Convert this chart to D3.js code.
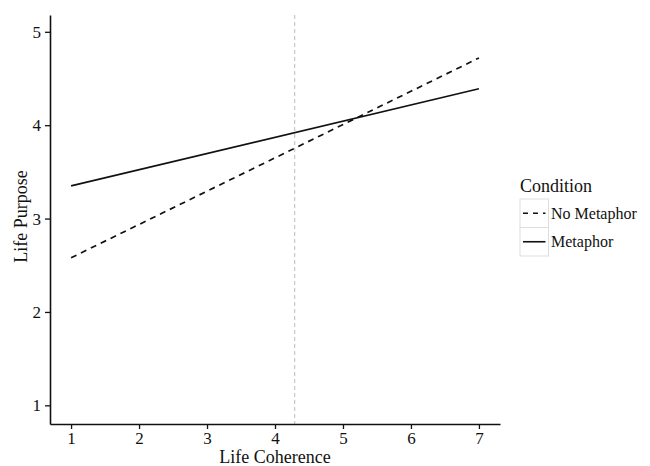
<!DOCTYPE html>
<html>
<head>
<meta charset="utf-8">
<script src="https://cdn.jsdelivr.net/npm/d3@7"></script>
<style>
  body { margin: 0; background: #fff; }
  svg text { font-family: "Liberation Serif", "Times New Roman", serif; fill: #111; }
</style>
</head>
<body>
<svg id="chart" width="650" height="466"></svg>
<script>
// x values where each fitted line is evaluated
var coherence = [1, 7];
// predicted life purpose per condition
var noMetaphor = [2.58, 4.72];
var metaphor = [3.35, 4.39];
var conditions = ["No Metaphor", "Metaphor"];
var xTicks = [1, 2, 3, 4, 5, 6, 7];
var yTicks = [1, 2, 3, 4, 5];
var meanCoherence = 4.29;

(function (d3) {
    var svg = d3.select("#chart");
    var plotLeft = 50, plotRight = 500, plotTop = 15, plotBottom = 424;

    var x = d3.scaleLinear().domain([0.69, 7.31]).range([plotLeft, plotRight]);
    var y = d3.scaleLinear().domain([0.8, 5.18]).range([plotBottom, plotTop]);

    // mean reference line
    svg.append("line")
        .attr("x1", x(meanCoherence)).attr("x2", x(meanCoherence))
        .attr("y1", y(5.18)).attr("y2", y(0.8))
        .attr("stroke", "#bbb").attr("stroke-width", 1)
        .attr("stroke-dasharray", "4,3");

    var series = [
        { name: conditions[0], values: noMetaphor, dash: "6,5" },
        { name: conditions[1], values: metaphor, dash: null }
    ];

    var line = d3.line()
        .x(function (d, i) { return x(coherence[i]); })
        .y(function (d) { return y(d); });

    svg.selectAll("path.fit")
        .data(series)
        .enter().append("path")
        .attr("class", "fit")
        .attr("d", function (d) { return line(d.values); })
        .attr("fill", "none")
        .attr("stroke", "#111")
        .attr("stroke-width", 1.7)
        .attr("stroke-dasharray", function (d) { return d.dash; });

    // axes
    var fmt = d3.format("d");
    var xAxis = svg.append("g")
        .attr("transform", "translate(0," + plotBottom + ")")
        .call(d3.axisBottom(x).tickValues(xTicks).tickFormat(fmt).tickSize(5).tickSizeOuter(0).tickPadding(3));
    var yAxis = svg.append("g")
        .attr("transform", "translate(" + plotLeft + ",0)")
        .call(d3.axisLeft(y).tickValues(yTicks).tickFormat(fmt).tickSize(5).tickSizeOuter(0).tickPadding(4));

    [xAxis, yAxis].forEach(function (g) {
        g.select(".domain").attr("stroke", "#111").attr("stroke-width", 1.6);
        g.selectAll(".tick line").attr("stroke", "#111").attr("stroke-width", 1.3);
        g.selectAll(".tick text").style("font-size", "17px").style("font-family", "Liberation Serif, serif").attr("fill", "#111");
    });

    svg.append("text")
        .attr("x", x(4)).attr("y", 463)
        .attr("text-anchor", "middle")
        .style("font-size", "18px")
        .text("Life Coherence");

    svg.append("text")
        .attr("transform", "translate(27," + (y(3) - 2) + ") rotate(-90)")
        .attr("text-anchor", "middle")
        .style("font-size", "18px")
        .text("Life Purpose");

    // legend
    var legend = svg.append("g").attr("transform", "translate(519,0)");
    legend.append("text")
        .attr("x", 1).attr("y", 192)
        .style("font-size", "18px")
        .text("Condition");

    var keys = legend.selectAll("g.key")
        .data(series)
        .enter().append("g")
        .attr("class", "key")
        .attr("transform", function (d, i) { return "translate(0," + (199 + i * 28.5) + ")"; });

    keys.append("rect")
        .attr("x", 1).attr("y", 0).attr("width", 28.5).attr("height", 28.5)
        .attr("fill", "#fff").attr("stroke", "#ddd").attr("stroke-width", 1);

    keys.append("line")
        .attr("x1", 4).attr("x2", 26.5).attr("y1", 14.25).attr("y2", 14.25)
        .attr("stroke", "#111").attr("stroke-width", 1.6)
        .attr("stroke-dasharray", function (d) { return d.dash ? "5,5" : null; });

    keys.append("text")
        .attr("x", 32).attr("y", 19.5)
        .style("font-size", "16px")
        .text(function (d) { return d.name; });
}).call(this, d3);
</script>
</body>
</html>
